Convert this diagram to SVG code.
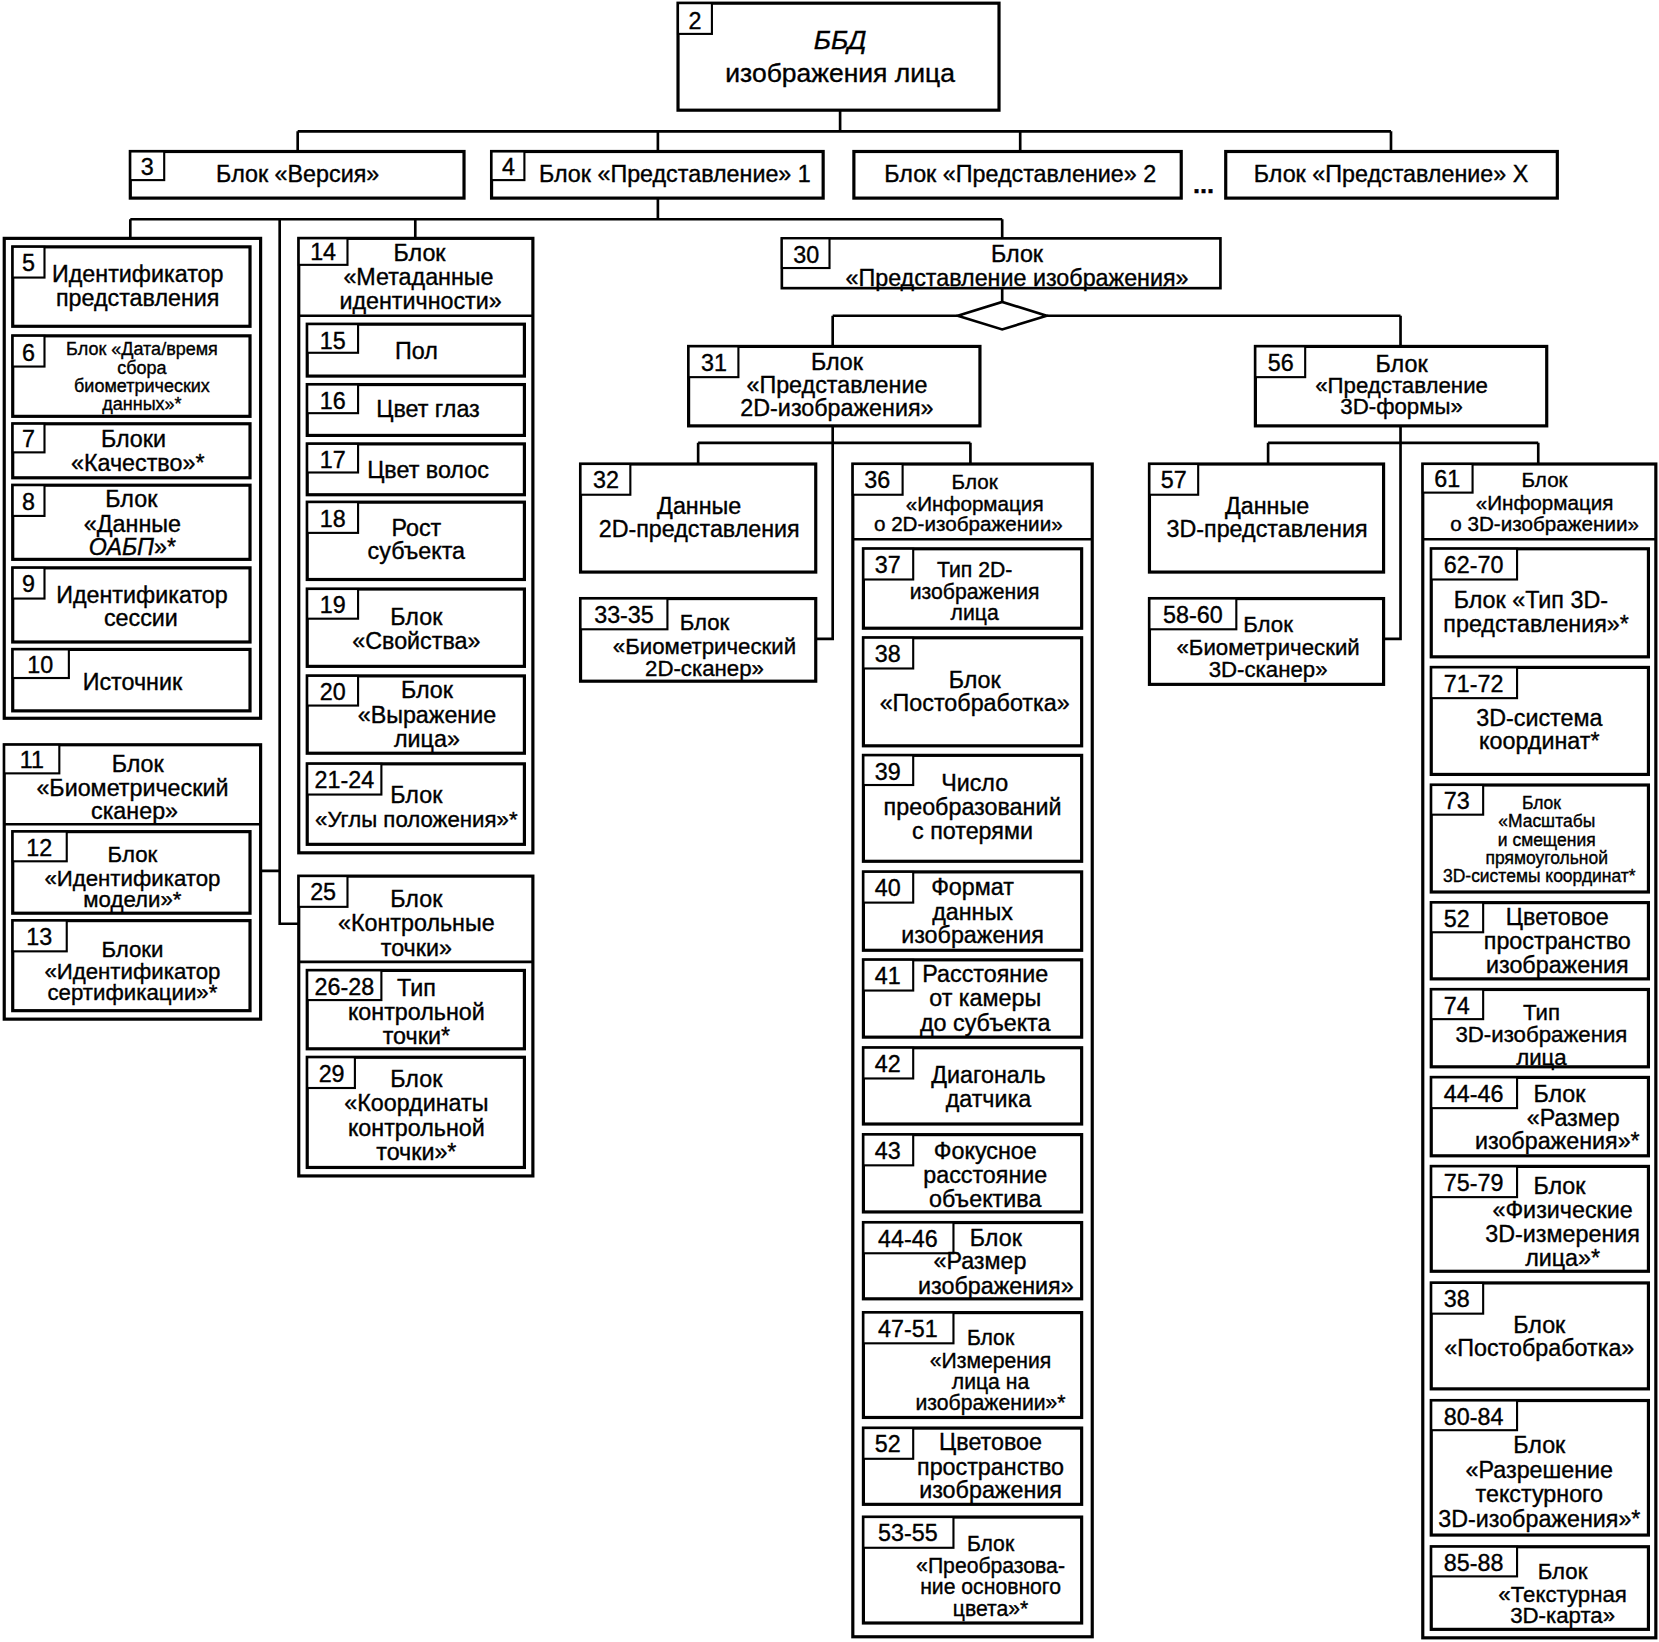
<svg xmlns="http://www.w3.org/2000/svg" width="1659" height="1642" viewBox="0 0 1659 1642">
<style>
.box{fill:#fff;stroke:#000;stroke-width:3}
.tag{fill:#fff;stroke:#000;stroke-width:2}
.ln{fill:none;stroke:#000;stroke-width:2.5}
.dv{stroke:#000;stroke-width:2.5}
text{font-family:"Liberation Sans",Arial,sans-serif;font-size:22px;fill:#000;stroke:#000;stroke-width:0.35;text-anchor:middle}
.s17{font-size:17px}
.s16{font-size:16.5px}
.s19{font-size:19.5px}
.s20{font-size:20px}
.s21{font-size:21px}
.big{font-size:25px}
</style>
<rect width="1659" height="1642" fill="#fff"/>
<g transform="scale(1.0594)">
<g id="connectors">
<path class="ln" d="M793,104V124M281,124H1313M281,124V143M621,124V143M963,124V143M1313,124V143"/>
<path class="ln" d="M621,187V207M123,207H946M123,207V225M264,207V872H282M392,207V225M946,207V225M246,822H264"/>
<path class="ln" d="M946,272V285M786,298H904M988,298H1322M786,298V327M1322,298V327"/>
<polygon class="ln" style="fill:#fff" points="904,298 946,285 988,298 946,311"/>
<path class="ln" d="M786,402V603H770M659,418H916M659,418V438M916,418V438"/>
<path class="ln" d="M1322,402V603H1306M1197,418H1452M1197,418V438M1452,418V438"/>
</g>

<g id="n2"><rect class="box" x="640" y="3" width="303" height="101"/><rect class="tag" x="640" y="3" width="32" height="29"/><text x="656" y="27">2</text>
<text class="big" x="793" y="46" font-style="italic">ББД</text><text class="big" x="793" y="77">изображения лица</text></g>

<g id="n3"><rect class="box" x="123" y="143" width="315" height="44"/><rect class="tag" x="123" y="143" width="32" height="27"/><text x="139" y="165">3</text><text x="281" y="172">Блок «Версия»</text></g>
<g id="n4"><rect class="box" x="464" y="143" width="313" height="44"/><rect class="tag" x="464" y="143" width="31" height="27"/><text x="480" y="165">4</text><text x="637" y="172">Блок «Представление» 1</text></g>
<g id="n4b"><rect class="box" x="806" y="143" width="309" height="44"/><text x="963" y="172">Блок «Представление» 2</text></g>
<text x="1136" y="182" font-weight="bold" style="font-size:24px">...</text>
<g id="n4x"><rect class="box" x="1157" y="143" width="313" height="44"/><text x="1313" y="172">Блок «Представление» X</text></g>

<g id="grpA"><rect class="box" x="4" y="225" width="242" height="453"/></g>
<g id="n5"><rect class="box" x="12" y="233" width="224" height="75"/><rect class="tag" x="12" y="233" width="30" height="29"/><text x="27" y="256">5</text><text x="130" y="266">Идентификатор</text><text x="130" y="289">представления</text></g>
<g id="n6"><rect class="box" x="12" y="317" width="224" height="76"/><rect class="tag" x="12" y="317" width="30" height="29"/><text x="27" y="341">6</text><text class="s17" x="134" y="335">Блок «Дата/время</text><text class="s17" x="134" y="353">сбора</text><text class="s17" x="134" y="370">биометрических</text><text class="s17" x="134" y="387">данных»*</text></g>
<g id="n7"><rect class="box" x="12" y="400" width="224" height="51"/><rect class="tag" x="12" y="400" width="30" height="27"/><text x="27" y="422">7</text><text x="126" y="422">Блоки</text><text x="130" y="445">«Качество»*</text></g>
<g id="n8"><rect class="box" x="12" y="458" width="224" height="70"/><rect class="tag" x="12" y="458" width="30" height="29"/><text x="27" y="481">8</text><text x="124" y="479">Блок</text><text x="125" y="502">«Данные</text><text x="125" y="524"><tspan font-style="italic">ОАБП</tspan>»*</text></g>
<g id="n9"><rect class="box" x="12" y="536" width="224" height="70"/><rect class="tag" x="12" y="536" width="30" height="29"/><text x="27" y="559">9</text><text x="134" y="569">Идентификатор</text><text x="133" y="591">сессии</text></g>
<g id="n10"><rect class="box" x="12" y="613" width="224" height="58"/><rect class="tag" x="12" y="613" width="53" height="27"/><text x="38" y="635">10</text><text x="125" y="651">Источник</text></g>

<g id="n11"><rect class="box" x="4" y="703" width="242" height="259"/><rect class="tag" x="4" y="703" width="52" height="27"/><text x="30" y="725">11</text><text x="130" y="729">Блок</text><text x="125" y="751">«Биометрический</text><text x="127" y="773">сканер»</text><line class="dv" x1="4" y1="778" x2="246" y2="778"/></g>
<g id="n12"><rect class="box" x="12" y="785" width="224" height="77"/><rect class="tag" x="12" y="785" width="51" height="28"/><text x="37" y="808">12</text><text class="s21" x="125" y="814">Блок</text><text class="s21" x="125" y="836">«Идентификатор</text><text class="s21" x="125" y="856">модели»*</text></g>
<g id="n13"><rect class="box" x="12" y="869" width="224" height="85"/><rect class="tag" x="12" y="869" width="51" height="29"/><text x="37" y="892">13</text><text class="s21" x="125" y="903">Блоки</text><text class="s21" x="125" y="924">«Идентификатор</text><text class="s21" x="125" y="944">сертификации»*</text></g>

<g id="n14"><rect class="box" x="282" y="225" width="221" height="580"/><rect class="tag" x="282" y="225" width="46" height="25"/><text x="305" y="245">14</text><text x="396" y="246">Блок</text><text x="395" y="269">«Метаданные</text><text x="397" y="292">идентичности»</text><line class="dv" x1="282" y1="298" x2="503" y2="298"/></g>
<g id="n15"><rect class="box" x="290" y="306" width="205" height="49"/><rect class="tag" x="290" y="306" width="48" height="27"/><text x="314" y="329">15</text><text x="393" y="339">Пол</text></g>
<g id="n16"><rect class="box" x="290" y="363" width="205" height="48"/><rect class="tag" x="290" y="363" width="48" height="27"/><text x="314" y="386">16</text><text x="404" y="394">Цвет глаз</text></g>
<g id="n17"><rect class="box" x="290" y="419" width="205" height="48"/><rect class="tag" x="290" y="419" width="48" height="27"/><text x="314" y="442">17</text><text x="404" y="451">Цвет волос</text></g>
<g id="n18"><rect class="box" x="290" y="474" width="205" height="73"/><rect class="tag" x="290" y="474" width="48" height="29"/><text x="314" y="497">18</text><text x="393" y="506">Рост</text><text x="393" y="528">субъекта</text></g>
<g id="n19"><rect class="box" x="290" y="556" width="205" height="73"/><rect class="tag" x="290" y="556" width="48" height="28"/><text x="314" y="579">19</text><text x="393" y="590">Блок</text><text x="393" y="613">«Свойства»</text></g>
<g id="n20"><rect class="box" x="290" y="638" width="205" height="73"/><rect class="tag" x="290" y="638" width="48" height="28"/><text x="314" y="661">20</text><text x="403" y="659">Блок</text><text x="403" y="682">«Выражение</text><text x="403" y="705">лица»</text></g>
<g id="n21"><rect class="box" x="290" y="721" width="205" height="76"/><rect class="tag" x="290" y="721" width="70" height="29"/><text x="325" y="744">21-24</text><text x="393" y="758">Блок</text><text class="s21" x="393" y="781">«Углы положения»*</text></g>

<g id="n25"><rect class="box" x="282" y="827" width="221" height="283"/><rect class="tag" x="282" y="827" width="46" height="29"/><text x="305" y="850">25</text><text x="393" y="856">Блок</text><text x="393" y="879">«Контрольные</text><text x="393" y="902">точки»</text><line class="dv" x1="282" y1="908" x2="503" y2="908"/></g>
<g id="n26"><rect class="box" x="290" y="916" width="205" height="74"/><rect class="tag" x="290" y="916" width="70" height="28"/><text x="325" y="939">26-28</text><text x="393" y="940">Тип</text><text x="393" y="963">контрольной</text><text x="393" y="985">точки*</text></g>
<g id="n29"><rect class="box" x="290" y="998" width="205" height="104"/><rect class="tag" x="290" y="998" width="45" height="29"/><text x="313" y="1021">29</text><text x="393" y="1026">Блок</text><text x="393" y="1049">«Координаты</text><text x="393" y="1072">контрольной</text><text x="393" y="1095">точки»*</text></g>

<g id="n30"><rect class="box" style="stroke-width:2.5" x="738" y="225" width="414" height="47"/><rect class="tag" x="738" y="225" width="45" height="28"/><text x="761" y="248">30</text><text x="960" y="247">Блок</text><text x="960" y="270">«Представление изображения»</text></g>

<g id="n31"><rect class="box" x="650" y="327" width="275" height="75"/><rect class="tag" x="650" y="327" width="47" height="29"/><text x="674" y="350">31</text><text x="790" y="349">Блок</text><text x="790" y="371">«Представление</text><text x="790" y="393">2D-изображения»</text></g>
<g id="n56"><rect class="box" x="1185" y="327" width="275" height="75"/><rect class="tag" x="1185" y="327" width="47" height="29"/><text x="1209" y="350">56</text><text x="1323" y="351">Блок</text><text class="s21" x="1323" y="371">«Представление</text><text class="s21" x="1323" y="391">3D-формы»</text></g>

<g id="n32"><rect class="box" x="548" y="438" width="222" height="102"/><rect class="tag" x="548" y="438" width="47" height="29"/><text x="572" y="461">32</text><text x="660" y="485">Данные</text><text x="660" y="507">2D-представления</text></g>
<g id="n33"><rect class="box" x="548" y="565" width="222" height="78"/><rect class="tag" x="548" y="565" width="82" height="29"/><text x="589" y="588">33-35</text><text class="s21" x="665" y="595">Блок</text><text class="s21" x="665" y="617">«Биометрический</text><text class="s21" x="665" y="638">2D-сканер»</text></g>
<g id="n57"><rect class="box" x="1085" y="438" width="221" height="102"/><rect class="tag" x="1085" y="438" width="46" height="29"/><text x="1108" y="461">57</text><text x="1196" y="485">Данные</text><text x="1196" y="507">3D-представления</text></g>
<g id="n58"><rect class="box" x="1085" y="565" width="221" height="81"/><rect class="tag" x="1085" y="565" width="82" height="29"/><text x="1126" y="588">58-60</text><text class="s21" x="1197" y="597">Блок</text><text class="s21" x="1197" y="618">«Биометрический</text><text class="s21" x="1197" y="639">3D-сканер»</text></g>

<g id="n36"><rect class="box" x="805" y="438" width="226" height="1107"/><rect class="tag" x="805" y="438" width="47" height="29"/><text x="828" y="461">36</text><text class="s19" x="920" y="462">Блок</text><text class="s19" x="920" y="482">«Информация</text><text class="s19" x="914" y="501">о 2D-изображении»</text><line class="dv" x1="805" y1="509" x2="1031" y2="509"/></g>
<g id="n37"><rect class="box" x="815" y="518" width="206" height="75"/><rect class="tag" x="815" y="518" width="47" height="29"/><text x="838" y="541">37</text><text class="s20" x="920" y="545">Тип 2D-</text><text class="s20" x="920" y="565">изображения</text><text class="s20" x="920" y="585">лица</text></g>
<g id="n38"><rect class="box" x="815" y="602" width="206" height="102"/><rect class="tag" x="815" y="602" width="47" height="29"/><text x="838" y="625">38</text><text x="920" y="649">Блок</text><text x="920" y="671">«Постобработка»</text></g>
<g id="n39"><rect class="box" x="815" y="713" width="206" height="100"/><rect class="tag" x="815" y="713" width="47" height="28"/><text x="838" y="736">39</text><text x="920" y="747">Число</text><text x="918" y="769">преобразований</text><text x="918" y="792">с потерями</text></g>
<g id="n40"><rect class="box" x="815" y="823" width="206" height="74"/><rect class="tag" x="815" y="823" width="47" height="29"/><text x="838" y="846">40</text><text x="918" y="845">Формат</text><text x="918" y="868">данных</text><text x="918" y="890">изображения</text></g>
<g id="n41"><rect class="box" x="815" y="906" width="206" height="73"/><rect class="tag" x="815" y="906" width="47" height="29"/><text x="838" y="929">41</text><text x="930" y="927">Расстояние</text><text x="930" y="950">от камеры</text><text x="930" y="973">до субъекта</text></g>
<g id="n42"><rect class="box" x="815" y="989" width="206" height="72"/><rect class="tag" x="815" y="989" width="47" height="29"/><text x="838" y="1012">42</text><text x="933" y="1022">Диагональ</text><text x="933" y="1045">датчика</text></g>
<g id="n43"><rect class="box" x="815" y="1071" width="206" height="73"/><rect class="tag" x="815" y="1071" width="47" height="29"/><text x="838" y="1094">43</text><text x="930" y="1094">Фокусное</text><text x="930" y="1117">расстояние</text><text x="930" y="1139">объектива</text></g>
<g id="n44"><rect class="box" x="815" y="1154" width="206" height="72"/><rect class="tag" x="815" y="1154" width="85" height="29"/><text x="857" y="1177">44-46</text><text x="940" y="1176">Блок</text><text x="925" y="1198">«Размер</text><text x="940" y="1221">изображения»</text></g>
<g id="n47"><rect class="box" x="815" y="1239" width="206" height="99"/><rect class="tag" x="815" y="1239" width="85" height="29"/><text x="857" y="1262">47-51</text><text class="s20" x="935" y="1270">Блок</text><text class="s20" x="935" y="1291">«Измерения</text><text class="s20" x="935" y="1311">лица на</text><text class="s20" x="935" y="1331">изображении»*</text></g>
<g id="n52"><rect class="box" x="815" y="1348" width="206" height="72"/><rect class="tag" x="815" y="1348" width="47" height="29"/><text x="838" y="1371">52</text><text x="935" y="1369">Цветовое</text><text x="935" y="1392">пространство</text><text x="935" y="1414">изображения</text></g>
<g id="n53"><rect class="box" x="815" y="1432" width="206" height="100"/><rect class="tag" x="815" y="1432" width="85" height="29"/><text x="857" y="1455">53-55</text><text class="s20" x="935" y="1464">Блок</text><text class="s20" x="935" y="1485">«Преобразова-</text><text class="s20" x="935" y="1505">ние основного</text><text class="s20" x="935" y="1525">цвета»*</text></g>

<g id="n61"><rect class="box" x="1343" y="438" width="220" height="1108"/><rect class="tag" x="1343" y="438" width="47" height="27"/><text x="1366" y="460">61</text><text class="s19" x="1458" y="460">Блок</text><text class="s19" x="1458" y="481">«Информация</text><text class="s19" x="1458" y="501">о 3D-изображении»</text><line class="dv" x1="1343" y1="509" x2="1563" y2="509"/></g>
<g id="n62"><rect class="box" x="1351" y="518" width="205" height="102"/><rect class="tag" x="1351" y="518" width="81" height="29"/><text x="1391" y="541">62-70</text><text x="1445" y="574">Блок «Тип 3D-</text><text x="1450" y="597">представления»*</text></g>
<g id="n71"><rect class="box" x="1351" y="630" width="205" height="101"/><rect class="tag" x="1351" y="630" width="81" height="29"/><text x="1391" y="653">71-72</text><text x="1453" y="685">3D-система</text><text x="1453" y="707">координат*</text></g>
<g id="n73"><rect class="box" x="1351" y="741" width="205" height="101"/><rect class="tag" x="1351" y="741" width="49" height="28"/><text x="1375" y="764">73</text><text class="s16" x="1455" y="764">Блок</text><text class="s16" x="1460" y="781">«Масштабы</text><text class="s16" x="1460" y="799">и смещения</text><text class="s16" x="1460" y="816">прямоугольной</text><text class="s16" x="1453" y="833">3D-системы координат*</text></g>
<g id="n52b"><rect class="box" x="1351" y="852" width="205" height="72"/><rect class="tag" x="1351" y="852" width="49" height="28"/><text x="1375" y="875">52</text><text x="1470" y="873">Цветовое</text><text x="1470" y="896">пространство</text><text x="1470" y="918">изображения</text></g>
<g id="n74"><rect class="box" x="1351" y="934" width="205" height="73"/><rect class="tag" x="1351" y="934" width="49" height="28"/><text x="1375" y="957">74</text><text class="s21" x="1455" y="963">Тип</text><text class="s21" x="1455" y="984">3D-изображения</text><text class="s21" x="1455" y="1005">лица</text></g>
<g id="n44b"><rect class="box" x="1351" y="1017" width="205" height="74"/><rect class="tag" x="1351" y="1017" width="81" height="29"/><text x="1391" y="1040">44-46</text><text x="1472" y="1040">Блок</text><text x="1485" y="1063">«Размер</text><text x="1470" y="1085">изображения»*</text></g>
<g id="n75"><rect class="box" x="1351" y="1101" width="205" height="99"/><rect class="tag" x="1351" y="1101" width="81" height="29"/><text x="1391" y="1124">75-79</text><text x="1472" y="1127">Блок</text><text x="1475" y="1150">«Физические</text><text x="1475" y="1172">3D-измерения</text><text x="1475" y="1195">лица»*</text></g>
<g id="n38b"><rect class="box" x="1351" y="1211" width="205" height="100"/><rect class="tag" x="1351" y="1211" width="49" height="29"/><text x="1375" y="1234">38</text><text x="1453" y="1258">Блок</text><text x="1453" y="1280">«Постобработка»</text></g>
<g id="n80"><rect class="box" x="1351" y="1322" width="205" height="127"/><rect class="tag" x="1351" y="1322" width="81" height="28"/><text x="1391" y="1345">80-84</text><text x="1453" y="1372">Блок</text><text x="1453" y="1395">«Разрешение</text><text x="1453" y="1418">текстурного</text><text x="1453" y="1441">3D-изображения»*</text></g>
<g id="n85"><rect class="box" x="1351" y="1460" width="205" height="78"/><rect class="tag" x="1351" y="1460" width="81" height="28"/><text x="1391" y="1483">85-88</text><text class="s21" x="1475" y="1490">Блок</text><text class="s21" x="1475" y="1512">«Текстурная</text><text class="s21" x="1475" y="1532">3D-карта»</text></g>
</g>
</svg>
